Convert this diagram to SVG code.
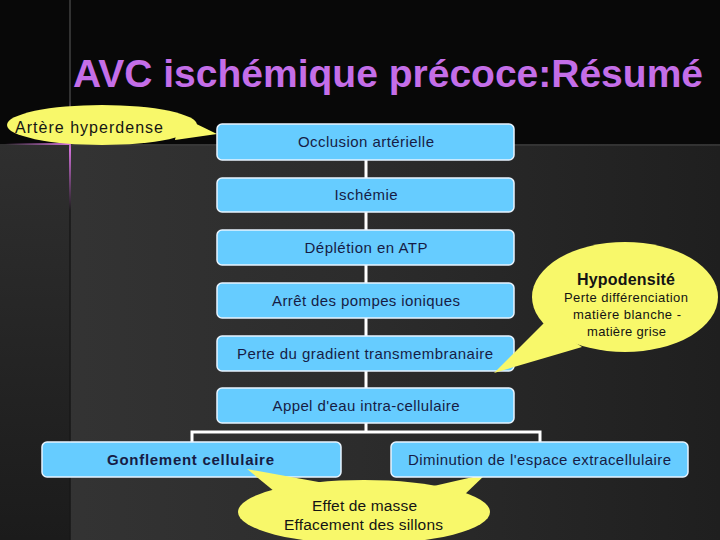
<svg xmlns="http://www.w3.org/2000/svg" width="720" height="540" viewBox="0 0 720 540">
<defs>
<linearGradient id="bgMain" x1="0" y1="0" x2="1" y2="0">
<stop offset="0" stop-color="#353535"/>
<stop offset="0.5" stop-color="#2c2c2c"/>
<stop offset="1" stop-color="#1f1f1f"/>
</linearGradient>
<linearGradient id="bgLeft" x1="0" y1="0" x2="0" y2="1">
<stop offset="0" stop-color="#2f2f2f"/>
<stop offset="1" stop-color="#1b1b1b"/>
</linearGradient>
<linearGradient id="glowV" x1="0" y1="0" x2="0" y2="1">
<stop offset="0" stop-color="#d070d8" stop-opacity="0"/>
<stop offset="0.45" stop-color="#d070d8" stop-opacity="1"/>
<stop offset="1" stop-color="#d070d8" stop-opacity="0"/>
</linearGradient>
<linearGradient id="glowH" x1="0" y1="0" x2="1" y2="0">
<stop offset="0" stop-color="#d070d8" stop-opacity="0"/>
<stop offset="1" stop-color="#d070d8" stop-opacity="1"/>
</linearGradient>
<style>
.box{fill:#66ccff;stroke:#e8f4ff;stroke-width:1.5}
.bt{font-family:"Liberation Sans",Arial,sans-serif;font-size:15px;fill:#161c45;text-anchor:middle}
.bb{font-weight:bold}
.bub{fill:#f8f86a}
.ct{font-family:"Liberation Sans",Arial,sans-serif;fill:#141414;text-anchor:middle}
.conn{stroke:#ffffff;stroke-width:3;fill:none}
</style>
</defs>

<!-- background -->
<rect x="0" y="0" width="720" height="540" fill="#080808"/>
<rect x="0" y="144" width="720" height="396" fill="url(#bgMain)"/>
<rect x="0" y="144" width="70" height="396" fill="url(#bgLeft)"/>
<line x1="70" y1="145" x2="720" y2="145" stroke="#3a3a3a" stroke-width="1.5"/>
<line x1="70" y1="0" x2="70" y2="130" stroke="#404040" stroke-width="1.5"/>
<line x1="70" y1="130" x2="70" y2="540" stroke="#181818" stroke-width="1.5"/>
<rect x="69" y="100" width="2" height="110" fill="url(#glowV)"/>
<rect x="5" y="143" width="65" height="2" fill="url(#glowH)"/>

<!-- title -->
<text x="73" y="87" textLength="630" lengthAdjust="spacingAndGlyphs" font-family="'Liberation Sans',Arial,sans-serif" font-weight="bold" font-size="39" fill="#c46ee8">AVC ischémique précoce:Résumé</text>

<!-- connectors -->
<g id="connectors">
<line class="conn" x1="366" y1="160" x2="366" y2="432"/>
<polyline class="conn" points="192,442 192,432 540,432 540,442"/>
</g>

<!-- bubble: Artère hyperdense -->
<g id="bubble-artere">
<ellipse class="bub" cx="102" cy="125" rx="95" ry="20"/>
<polygon class="bub" points="180,116 217,134 175,140"/>
<text class="ct" x="89" y="133" font-size="16" textLength="148">Artère hyperdense</text>
</g>

<g id="n1"><rect class="box" x="217" y="124" width="297" height="36" rx="5"/><text class="bt" x="366" y="147" textLength="136">Occlusion artérielle</text></g>
<g id="n2"><rect class="box" x="217" y="178" width="297" height="34" rx="5"/><text class="bt" x="366" y="200" textLength="63">Ischémie</text></g>
<g id="n3"><rect class="box" x="217" y="230" width="297" height="35" rx="5"/><text class="bt" x="366" y="253" textLength="123">Déplétion en ATP</text></g>
<g id="n4"><rect class="box" x="217" y="283" width="297" height="35" rx="5"/><text class="bt" x="366" y="306" textLength="188">Arrêt des pompes ioniques</text></g>
<g id="n5"><rect class="box" x="217" y="336" width="297" height="35" rx="5"/><text class="bt" x="365" y="359" textLength="256">Perte du gradient transmembranaire</text></g>
<g id="n6"><rect class="box" x="217" y="388" width="297" height="35" rx="5"/><text class="bt" x="366" y="411" textLength="187">Appel d'eau intra-cellulaire</text></g>
<g id="n7"><rect class="box" x="42" y="442" width="299" height="35" rx="5"/><text class="bt bb" x="190.5" y="465" textLength="167">Gonflement cellulaire</text></g>

<!-- bubble: Hypodensité -->
<g id="bubble-hypo">
<ellipse class="bub" cx="625" cy="297" rx="93" ry="55"/>
<polygon class="bub" points="545,322 494,373 582,347"/>
<text class="ct" x="626" y="285" font-size="16" font-weight="bold" textLength="98">Hypodensité</text>
<text class="ct" x="626" y="302" font-size="13" textLength="124">Perte différenciation</text>
<text class="ct" x="627" y="319" font-size="13" textLength="108">matière blanche -</text>
<text class="ct" x="626.5" y="336" font-size="13" textLength="79">matière grise</text>
</g>

<!-- bubble: Effet de masse -->
<g id="bubble-effet">
<ellipse class="bub" cx="364" cy="512" rx="126" ry="32"/>
<polygon class="bub" points="247,469 335,485 280,496"/>
<polygon class="bub" points="425,488 486,474 462,497"/>
<text class="ct" x="364.5" y="511" font-size="15.5" textLength="105">Effet de masse</text>
<text class="ct" x="363.5" y="530" font-size="15.5" textLength="159">Effacement des sillons</text>
</g>

<g id="n8"><rect class="box" x="391" y="442" width="297" height="35" rx="5"/><text class="bt" x="539.5" y="465" textLength="263">Diminution de l'espace extracellulaire</text></g>
</svg>
